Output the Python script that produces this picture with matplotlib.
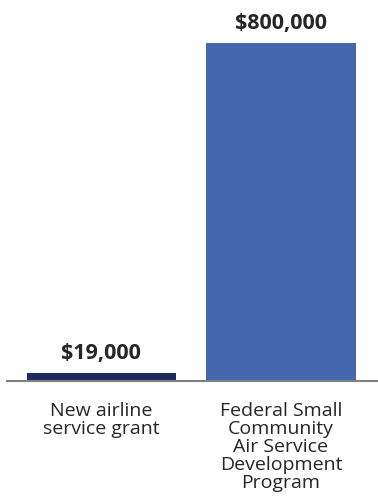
import matplotlib
matplotlib.use("Agg")
import matplotlib.pyplot as plt

categories = ["New airline\nservice grant",
              "Federal Small\nCommunity\nAir Service\nDevelopment\nProgram"]
values = [19000, 800000]
value_labels = ["$19,000", "$800,000"]
colors = ["#1f2a5e", "#4467b0"]

plt.rcParams['font.family'] = ['Open Sans', 'DejaVu Sans']

W, H = 378, 496
fig = plt.figure(figsize=(W/100, H/100), dpi=100)
ax = fig.add_axes([7/W, 1 - 381/H, 371/W, (381 - 43)/H])

x = [0, 1]
ax.bar(x, values, width=0.83, color=colors)
ax.set_xlim(-0.525, 1.54)
ax.set_ylim(0, 800000)

for s in ["top", "right", "left"]:
    ax.spines[s].set_visible(False)
ax.spines["bottom"].set_color("#808080")
ax.spines["bottom"].set_linewidth(1.5)
ax.set_xticks([])
ax.set_yticks([])

for xi, v, lab in zip(x, values, value_labels):
    ax.annotate(lab, xy=(xi, v), xytext=(0, 9), textcoords="offset pixels",
                ha="center", va="bottom", fontsize=15.5, fontweight="bold",
                color="#262626", annotation_clip=False)

for xi, cat in zip(x, categories):
    ax.annotate(cat, xy=(xi, 0), xytext=(0, -21), textcoords="offset pixels",
                ha="center", va="top", fontsize=14, color="#262626",
                linespacing=1.0, annotation_clip=False)

fig.savefig("out.png", dpi=100)
